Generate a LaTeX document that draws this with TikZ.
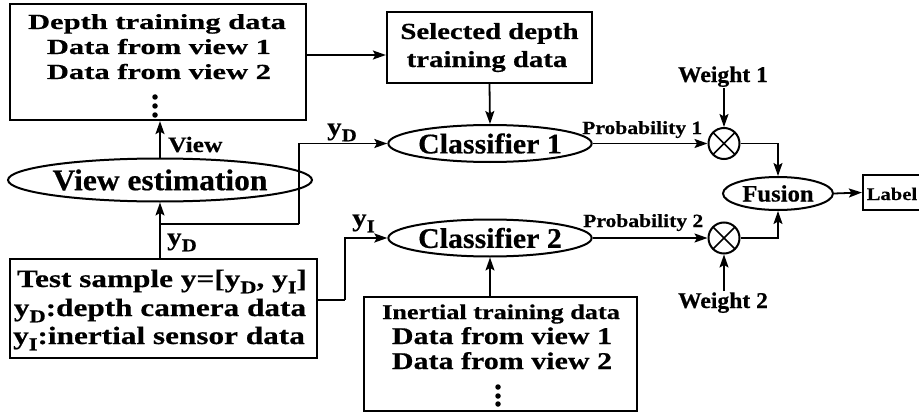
\documentclass[tikz,border=0pt]{standalone}
\usepackage{fontspec}
\setmainfont{Liberation Serif}
\newfontfamily\fA[FakeStretch=1.42,FakeBold=0.5]{Liberation Serif Bold}
\newfontfamily\fB[FakeStretch=1.25,FakeBold=0.5]{Liberation Serif Bold}
\newfontfamily\fC[FakeStretch=1.05,FakeBold=0.5]{Liberation Serif Bold}
\newfontfamily\fD[FakeStretch=1.16,FakeBold=0.4]{Liberation Serif Bold}
\usetikzlibrary{shapes.geometric,arrows.meta}
\newcommand\sbs[1]{\raisebox{-0.25em}{\scalebox{0.72}{#1}}}
\tikzset{
  box/.style={draw, line width=2.2pt, inner sep=0pt},
  ell/.style={draw, ellipse, line width=2pt, inner sep=0pt},
  arr/.style={line width=1.8pt, -{Stealth[length=13pt,width=9pt,inset=2.5pt]}},
  txt/.style={inner sep=0pt, anchor=base},
  lbl/.style={inner sep=1pt, anchor=base},
  dotc/.style={circle, fill, inner sep=0pt, minimum size=5.5pt},
  mult/.style={circle, draw, line width=2pt, minimum size=31pt, inner sep=0pt,
    path picture={\draw[line width=1.7pt]
      (path picture bounding box.north west) -- (path picture bounding box.south east)
      (path picture bounding box.north east) -- (path picture bounding box.south west);}},
  fa/.style={font=\fA\fontsize{21.5}{25}\selectfont},
  fbl/.style={font=\fB\fontsize{23}{28}\selectfont},
  fbt/.style={font=\fB\fontsize{25}{28}\selectfont},
  fbi/.style={font=\fB\fontsize{21}{25}\selectfont},
  fbd/.style={font=\fB\fontsize{24}{25}\selectfont},
  fprob/.style={font=\fD\fontsize{18.6}{20}\selectfont},
  fw/.style={font=\fC\fontsize{22.5}{24}\selectfont},
  fy/.style={font=\fD\fontsize{25}{26}\selectfont},
}
\begin{document}
\begin{tikzpicture}[x=1pt,y=-1pt]
\useasboundingbox (0,0) rectangle (919,412);

% depth training box
\node[box, minimum width=296pt, minimum height=116pt] (depthbox) at (158,62) {};
\node[txt, fa] (tA1) at (157,29) {Depth training data};
\node[txt, fa] (tA2) at (159,54) {Data from view 1};
\node[txt, fa] (tA3) at (159,79) {Data from view 2};
\node[dotc] (dA1) at (155,97) {};
\node[dotc] (dA2) at (155,106) {};
\node[dotc] (dA3) at (155,115) {};

% selected depth training data
\node[box, minimum width=205pt, minimum height=71pt] (selbox) at (489.5,47.5) {};
\node[txt, fbl] (tB1) at (489.5,39) {Selected depth};
\node[txt, fbl] (tB2) at (487,67) {training data};

% view estimation
\node[ell, minimum width=247pt, minimum height=43pt, font=\fC\fontsize{30}{32}\selectfont] (viewest) at (160,180) {View estimation};
\node[lbl, anchor=base west, font=\fD\fontsize{22}{24}\selectfont] (viewlbl) at (167,152) {View};

% test sample box
\node[box, minimum width=307pt, minimum height=99pt] (test) at (163.5,308.5) {};
\node[txt, fbt] (tT1) at (162,287) {Test sample y=[y\sbs{D}, y\sbs{I}]};
\node[txt, fbt] (tT2) at (160,316) {y\sbs{D}:depth camera data};
\node[txt, fbt] (tT3) at (159,344) {y\sbs{I}:inertial sensor data};

% classifiers
\node[ell, minimum width=186pt, minimum height=37pt, font=\fC\fontsize{28.5}{30}\selectfont] (cls1) at (490,143.5) {Classifier 1};
\node[ell, minimum width=186pt, minimum height=37pt, font=\fC\fontsize{28.5}{30}\selectfont] (cls2) at (490,238) {Classifier 2};

% inertial training box
\node[box, minimum width=273pt, minimum height=114pt] (inbox) at (500.5,354) {};
\node[txt, fbi] (tI1) at (501,319) {Inertial training data};
\node[txt, fbd] (tI2) at (502,344) {Data from view 1};
\node[txt, fbd] (tI3) at (502,369) {Data from view 2};
\node[dotc] (dI1) at (498,387) {};
\node[dotc] (dI2) at (498,396) {};
\node[dotc] (dI3) at (498,404) {};

% multipliers
\node[mult] (m1) at (724,143.5) {};
\node[mult] (m2) at (724,238) {};
\node[lbl, fprob, anchor=base west] (p1) at (581,134) {Probability 1};
\node[lbl, fprob, anchor=base west] (p2) at (582,227) {Probability 2};
\node[lbl, fw] (w1) at (723,82) {Weight 1};
\node[lbl, fw] (w2) at (723,308) {Weight 2};

% fusion and label
\node[ell, minimum width=110pt, minimum height=33pt, font=\fC\fontsize{23.5}{25}\selectfont] (fusion) at (778,193.5) {Fusion};
\node[box, minimum width=74pt, minimum height=35pt] (label) at (900,192.5) {};
\node[txt, anchor=base west, font=\fD\fontsize{17.8}{20}\selectfont] (labeltxt) at (866.5,200) {Label};

% y labels
\node[lbl, fy, anchor=base west] (yd1) at (326,135) {y\sbs{D}};
\node[lbl, fy, anchor=base west] (yd2) at (166,245) {y\sbs{D}};
\node[lbl, fy, anchor=base west] (yi) at (351,226) {y\sbs{I}};

% connectors
\coordinate (br) at (160,224);
\coordinate (k1) at (299,224);
\coordinate (k2) at (345,300);
\draw[arr] (depthbox.east |- 0,55) -- (selbox.west |- 0,55);
\draw[arr] (selbox.south) -- (cls1.north);
\draw[arr] (viewest.north) -- (depthbox.south -| viewest.north);
\draw[arr] (test.north -| viewest.south) -- (viewest.south);
\draw[line width=1.8pt] (br) -- (k1);
\draw[arr] (k1) |- (cls1.west);
\draw[line width=1.8pt] (test.east |- k2) -- (k2);
\draw[arr] (k2) |- (cls2.west);
\draw[arr] (inbox.north -| cls2.south) -- (cls2.south);
\draw[arr] (cls1.east) -- (m1.west);
\draw[arr] (cls2.east) -- (m2.west);
\draw[arr] (m1.north |- w1.south) -- (m1.north);
\draw[arr] (m2.south |- w2.north) -- (m2.south);
\draw[arr] (m1.east) -| (fusion.north);
\draw[arr] (m2.east) -| (fusion.south);
\draw[arr] (fusion.east) -- (label.west);
\end{tikzpicture}
\end{document}
